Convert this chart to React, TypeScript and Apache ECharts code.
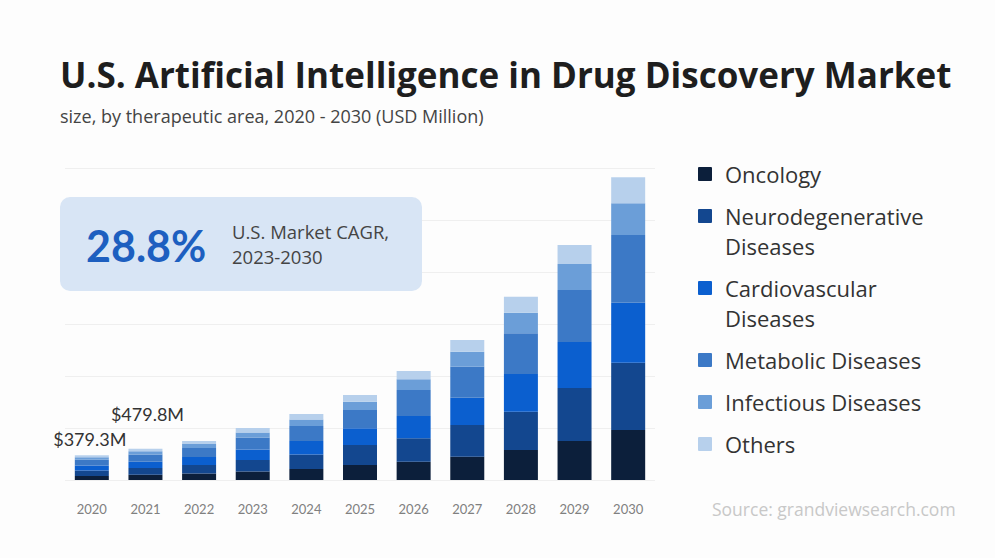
import React, { useEffect, useRef } from "react";
import * as echarts from "echarts";

const years = ["2020", "2021", "2022", "2023", "2024", "2025", "2026", "2027", "2028", "2029", "2030"];
const seriesNames = [
  "Oncology",
  "Neurodegenerative Diseases",
  "Cardiovascular Diseases",
  "Metabolic Diseases",
  "Infectious Diseases",
  "Others",
];
const legendLines = [
  "Oncology",
  "Neurodegenerative\nDiseases",
  "Cardiovascular\nDiseases",
  "Metabolic Diseases",
  "Infectious Diseases",
  "Others",
];
const colors = ["#0c1f3b", "#13478f", "#0b5fcf", "#3c79c6", "#6b9ed8", "#b7d0ec"];

const oncology = [63, 80, 100, 131, 169, 231, 281, 358, 461, 600, 769];
const neurodegenerative = [83, 105, 131, 177, 223, 308, 360, 488, 589, 815, 1035];
const cardiovascular = [77, 97, 123, 161, 208, 257, 343, 420, 580, 707, 923];
const metabolic = [87, 110, 138, 185, 231, 281, 400, 477, 626, 800, 1041];
const infectious = [40, 50, 62, 77, 100, 128, 165, 231, 317, 400, 488];
const others = [29.3, 37.8, 46, 69, 85, 103, 128, 180, 246, 292, 400];

const labelledTotals = [379.3, 479.8];

const allSeries = [oncology, neurodegenerative, cardiovascular, metabolic, infectious, others];

const FONT = "'Open Sans', Lato, sans-serif";
const LATO = "Lato, 'Open Sans', sans-serif";

export default function App() {
  const ref = useRef<HTMLDivElement>(null);

  useEffect(() => {
    if (!ref.current) return;
    const chart = echarts.init(ref.current, undefined, { renderer: "svg" });

    const labelOffsets = [
      [-2, -3],
      [2, -22],
    ];

    const series = allSeries.map((arr, si) => ({
      name: seriesNames[si],
      type: "bar",
      stack: "total",
      barWidth: 34,
      itemStyle: { color: colors[si] },
      data: arr.map((v, i) => {
        if (si === allSeries.length - 1 && i < labelledTotals.length) {
          return {
            value: v,
            label: {
              show: true,
              position: "top",
              distance: 4,
              offset: labelOffsets[i],
              formatter: () => "$" + labelledTotals[i].toFixed(1) + "M",
              fontFamily: LATO,
              fontSize: 18,
              color: "#333333",
            },
          };
        }
        return v;
      }),
    }));

    // Legend built from series names / colors
    const legendGraphics: any[] = [];
    let yc = 174;
    const lineH = 30;
    legendLines.forEach((txt, i) => {
      const nLines = txt.split("\n").length;
      legendGraphics.push({
        type: "rect",
        shape: { x: 698, y: yc - 7, width: 14, height: 14, r: 1 },
        style: { fill: colors[i] },
        z: 10,
      });
      legendGraphics.push({
        type: "text",
        x: 725,
        y: yc - lineH / 2,
        style: {
          text: txt,
          fontFamily: FONT,
          fontSize: 22,
          lineHeight: lineH,
          fill: "#333333",
          verticalAlign: "top",
        },
        z: 10,
      });
      yc += nLines * lineH + 12;
    });

    chart.setOption({
      animation: false,
      backgroundColor: "#fdfdfd",
      title: [
        {
          text: "U.S. Artificial Intelligence in Drug Discovery Market",
          left: 55,
          top: 52,
          textStyle: { fontFamily: FONT, fontSize: 35, fontWeight: "bold", color: "#1e1e1e" },
        },
        {
          text: "size, by therapeutic area, 2020 - 2030 (USD Million)",
          left: 55,
          top: 102,
          textStyle: { fontFamily: FONT, fontSize: 18, fontWeight: "normal", color: "#444444" },
        },
      ],
      grid: { left: 65, right: 340, top: 168, bottom: 78 },
      xAxis: {
        type: "category",
        data: years,
        axisLine: { show: false },
        axisTick: { show: false },
        axisLabel: { margin: 22, fontFamily: LATO, fontSize: 13, color: "#808080" },
      },
      yAxis: {
        type: "value",
        min: 0,
        max: 4800,
        interval: 800,
        axisLabel: { show: false },
        axisLine: { show: false },
        axisTick: { show: false },
        splitLine: { lineStyle: { color: "#efefef", width: 1 } },
      },
      series,
      graphic: [
        {
          type: "rect",
          shape: { x: 60, y: 197, width: 362, height: 94, r: 10 },
          style: { fill: "#d8e5f5" },
          z: 5,
        },
        {
          type: "text",
          x: 86,
          y: 245,
          style: {
            text: "28.8%",
            fontFamily: LATO,
            fontSize: 43,
            fontWeight: "bold",
            fill: "#1d5fc0",
            verticalAlign: "middle",
          },
          z: 6,
        },
        {
          type: "text",
          x: 232,
          y: 219,
          style: {
            text: "U.S. Market CAGR,\n2023-2030",
            fontFamily: FONT,
            fontSize: 18.5,
            lineHeight: 25,
            fill: "#444444",
            verticalAlign: "top",
          },
          z: 6,
        },
        {
          type: "text",
          x: 712,
          y: 509,
          style: {
            text: "Source: grandviewsearch.com",
            fontFamily: FONT,
            fontSize: 17.5,
            fill: "#c8c8c8",
            verticalAlign: "middle",
          },
          z: 6,
        },
        ...legendGraphics,
      ],
    });

    return () => chart.dispose();
  }, []);

  return (
    <div
      ref={ref}
      style={{ position: "fixed", left: 0, top: 0, width: 995, height: 558 }}
    />
  );
}
